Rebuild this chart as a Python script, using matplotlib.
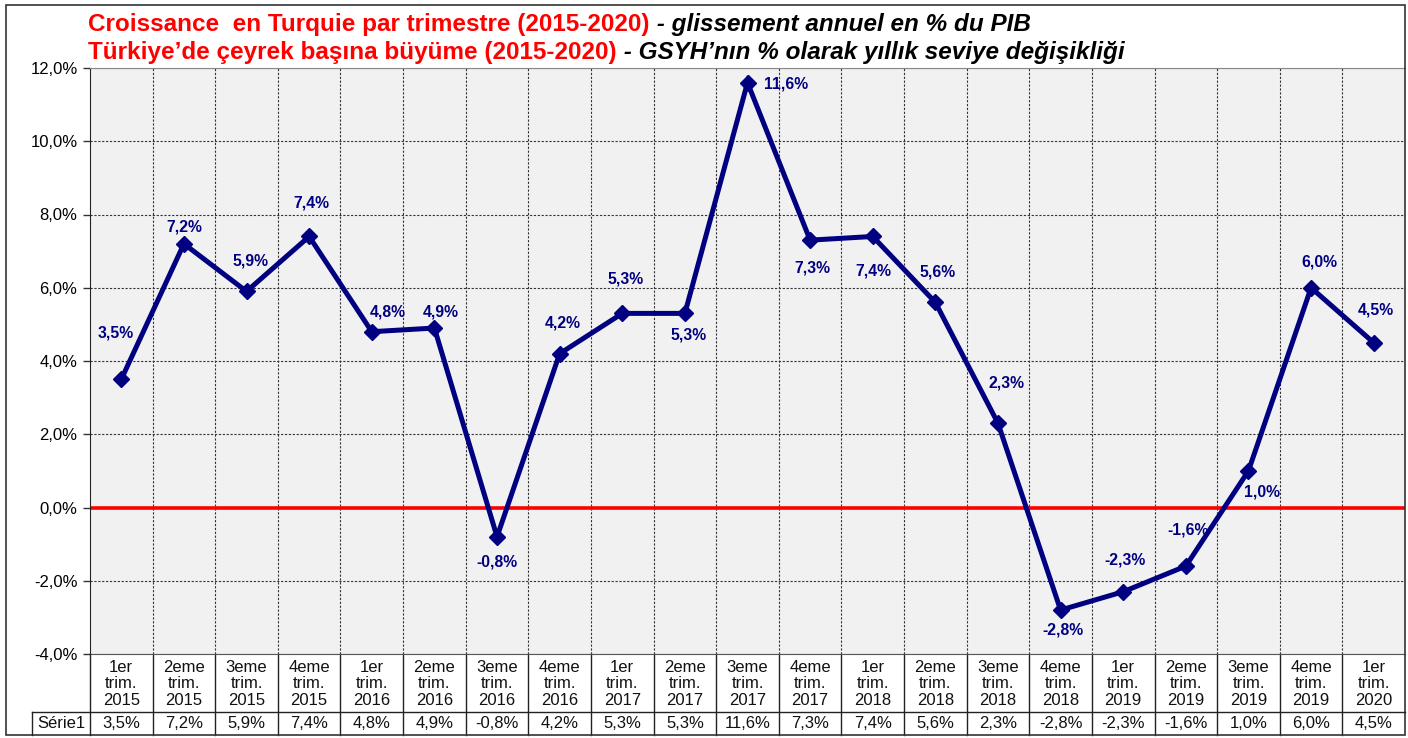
import numpy as np
import matplotlib
matplotlib.use("Agg")
import matplotlib.pyplot as plt
from matplotlib.transforms import blended_transform_factory
from matplotlib.patches import Rectangle

#---------------------FONT------------------------
plt.rcParams['font.family'] = ['Liberation Sans', 'DejaVu Sans']

#---------------------DATA------------------------
quarters = ["1er", "2eme", "3eme", "4eme", "1er", "2eme", "3eme", "4eme",
            "1er", "2eme", "3eme", "4eme", "1er", "2eme", "3eme", "4eme",
            "1er", "2eme", "3eme", "4eme", "1er"]
years = ["2015", "2015", "2015", "2015", "2016", "2016", "2016", "2016",
         "2017", "2017", "2017", "2017", "2018", "2018", "2018", "2018",
         "2019", "2019", "2019", "2019", "2020"]
growth = [3.5, 7.2, 5.9, 7.4, 4.8, 4.9, -0.8, 4.2, 5.3, 5.3, 11.6,
          7.3, 7.4, 5.6, 2.3, -2.8, -2.3, -1.6, 1.0, 6.0, 4.5]
yticks = [-4, -2, 0, 2, 4, 6, 8, 10, 12]
series_name = "Série1"

# label offsets (pixels, x right / y up) relative to each point
label_off = [(-6, 46), (0, 17), (4, 30), (2, 33), (16, 20), (6, 16), (0, -25),
             (3, 31), (3, 34), (4, -22), (39, -1), (2, -28), (1, -35), (2, 30),
             (9, 40), (2, -20), (2, 32), (2, 36), (14, -21), (8, 26), (2, 33)]

def fmt(v):
    return ("%.1f%%" % v).replace(".", ",")

#------------Figure Layout--------------
W, H = 1408, 738
fig = plt.figure(figsize=(W / 100., H / 100.), dpi=100)
fig.patch.set_facecolor("white")

L, R, T, B = 90, 1405, 68, 654
ax = fig.add_axes([L / W, 1 - B / H, (R - L) / W, (B - T) / H])
ax.set_facecolor("#f1f1f1")

n = len(growth)
x = np.arange(n)
ax.set_xlim(-0.5, n - 0.5)
ax.set_ylim(-4, 12)

# grid
for yv in yticks:
    ax.axhline(yv, color="#333333", lw=0.8, ls=(0, (2, 1.5)), zorder=1)
for xi in range(n - 1):
    ax.axvline(xi + 0.5, color="#333333", lw=0.8, ls=(0, (2, 1.5)), zorder=1)

ax.axhline(0, color="#ff0000", lw=2.6, zorder=2)

#PLOT
ax.plot(x, growth, color="#000080", lw=3.6, marker="D", markersize=8.5,
        solid_joinstyle="miter", zorder=3)

for xi, v, (dx, dy) in zip(x, growth, label_off):
    ax.annotate(fmt(v), xy=(xi, v), xytext=(dx, dy), textcoords="offset pixels",
                ha="center", va="center", fontsize=11.3, fontweight="bold",
                color="#000080", zorder=4)

# axes style
ax.set_yticks(yticks)
ax.set_yticklabels([fmt(v) for v in yticks], fontsize=12)
ax.tick_params(axis="y", length=5, width=1, direction="out", pad=4, color="#333333")
ax.set_xticks([])
ax.spines["right"].set_visible(False)
ax.spines["top"].set_color("#888888")
ax.spines["left"].set_color("#222222")
ax.spines["bottom"].set_color("#555555")

#-------------------------TABLE
def fy(py):
    return 1 - py / H

tr = blended_transform_factory(ax.transData, fig.transFigure)
trf = fig.transFigure
line_kw = dict(color="#222222", lw=1.0, clip_on=False)

# vertical separators in header and data row
for xi in range(n - 1):
    ax.plot([xi + 0.5, xi + 0.5], [fy(B), fy(735)], transform=tr, **line_kw)
fig.add_artist(plt.Line2D([L / W, L / W], [fy(B), fy(735)], transform=trf, **line_kw))
fig.add_artist(plt.Line2D([32 / W, R / W], [fy(712), fy(712)], transform=trf, **line_kw))
fig.add_artist(plt.Line2D([32 / W, 32 / W], [fy(712), fy(735)], transform=trf, **line_kw))

for xi in range(n):
    ax.text(xi, fy(684), "%s\ntrim.\n%s" % (quarters[xi], years[xi]), transform=tr,
            ha="center", va="center", fontsize=12, linespacing=1.1, color="#111111")
    ax.text(xi, fy(724), fmt(growth[xi]), transform=tr, ha="center", va="center",
            fontsize=12, color="#111111")
fig.text(61 / W, fy(724), series_name, ha="center", va="center", fontsize=12,
         color="#111111")

# outer frame
fig.add_artist(Rectangle((6 / W, fy(735)), (R - 6) / W, (735 - 5) / H, transform=trf,
                         fill=False, edgecolor="#333333", lw=1.2))

#-------------------------TITLE
title_parts = [
    ("Croissance  en Turquie par trimestre (2015-2020)", " - glissement annuel en % du PIB", 25),
    ("Türkiye’de çeyrek başına büyüme (2015-2020)", " - GSYH’nın % olarak yıllık seviye değişikliği", 52),
]
fig.canvas.draw()
renderer = fig.canvas.get_renderer()
for red, black, yc in title_parts:
    t1 = fig.text(88 / W, fy(yc), red, ha="left", va="center", fontsize=17.5,
                  fontweight="bold", color="#ff0000")
    bb = t1.get_window_extent(renderer)
    fig.text(bb.x1 / W, fy(yc), black, ha="left", va="center", fontsize=17.5,
             fontweight="bold", fontstyle="italic", color="black")

#SAVING
fig.savefig("out.png", dpi=100)
